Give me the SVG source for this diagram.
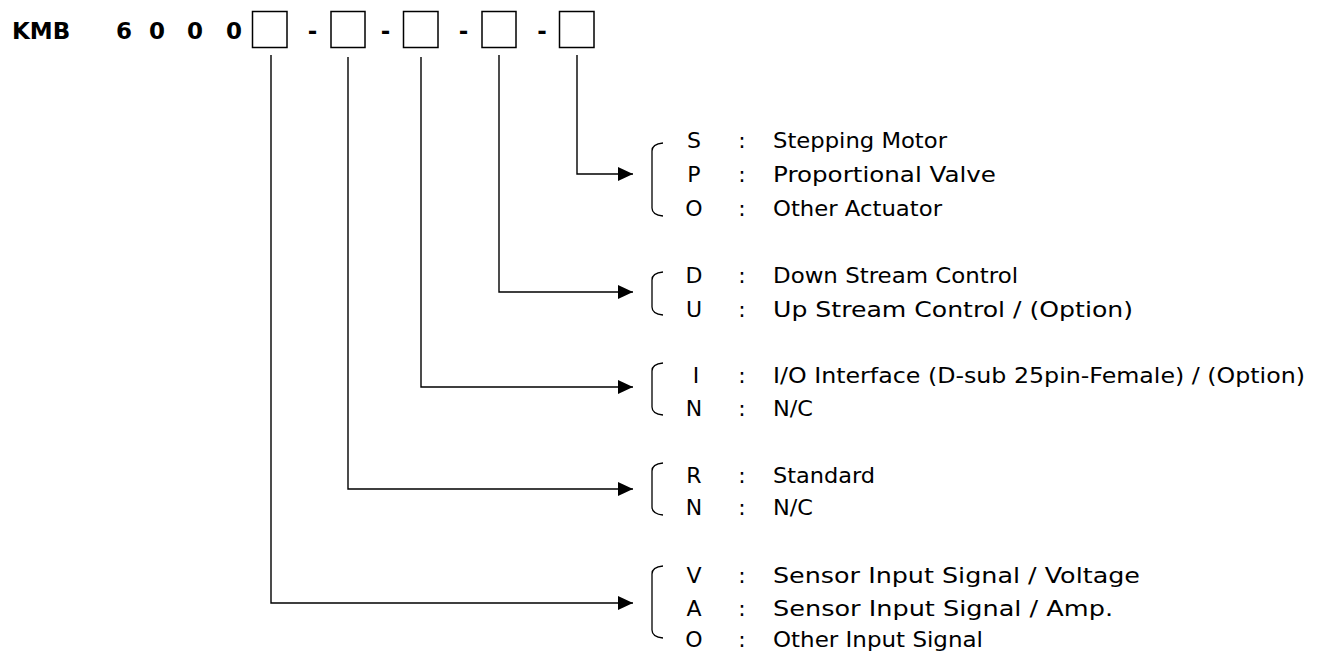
<svg xmlns="http://www.w3.org/2000/svg" width="1324" height="653" viewBox="0 0 1324 653">
<style>
.hd{font-family:"DejaVu Sans","Liberation Sans",sans-serif;font-weight:bold;font-size:23px;fill:#000}
.t{font-family:"DejaVu Sans","Liberation Sans",sans-serif;font-size:22px;fill:#000}
.k{text-anchor:middle}
.box{fill:#fff;stroke:#000;stroke-width:1.5}
.ln{fill:none;stroke:#000;stroke-width:1.4}
.br{fill:none;stroke:#000;stroke-width:1.3}
</style>
<defs>
<marker id="ah" markerWidth="15" markerHeight="14" refX="15" refY="7" orient="auto" markerUnits="userSpaceOnUse">
<path d="M0,0 L15,7 L0,14 Z" fill="#000"/>
</marker>
</defs>
<rect width="1324" height="653" fill="#fff"/>
<g id="code">
<text class="hd" x="12" y="39">KMB</text>
<text class="hd" x="116" y="39">6</text>
<text class="hd" x="149" y="39">0</text>
<text class="hd" x="187" y="39">0</text>
<text class="hd" x="226" y="39">0</text>
<text class="hd k" x="312.5" y="39">-</text>
<text class="hd k" x="385.5" y="39">-</text>
<text class="hd k" x="463.5" y="39">-</text>
<text class="hd k" x="542" y="39">-</text>
<rect class="box" x="252.5" y="11.5" width="34.5" height="36"/>
<rect class="box" x="331" y="11.5" width="34" height="36"/>
<rect class="box" x="403.5" y="11.5" width="34.5" height="36"/>
<rect class="box" x="482" y="11.5" width="34" height="36"/>
<rect class="box" x="559.5" y="11.5" width="34.5" height="36"/>
</g>
<g id="connectors">
<path class="ln" d="M577,55 V174 H633" marker-end="url(#ah)"/>
<path class="ln" d="M499,55 V292 H633" marker-end="url(#ah)"/>
<path class="ln" d="M421,57 V387 H633" marker-end="url(#ah)"/>
<path class="ln" d="M348,57 V489 H633" marker-end="url(#ah)"/>
<path class="ln" d="M271,55 V603 H633" marker-end="url(#ah)"/>
</g>
<g id="actuator">
<path class="br" d="M663,143 Q652,144 652,151 V208 Q652,215 663,216"/>
<text class="t k" x="694" y="148">S</text><text class="t k" x="742" y="148">:</text><text class="t" x="773" y="148" textLength="174" lengthAdjust="spacingAndGlyphs">Stepping Motor</text>
<text class="t k" x="694" y="182">P</text><text class="t k" x="742" y="182">:</text><text class="t" x="773" y="182" textLength="223" lengthAdjust="spacingAndGlyphs">Proportional Valve</text>
<text class="t k" x="694" y="216">O</text><text class="t k" x="742" y="216">:</text><text class="t" x="773" y="216" textLength="169" lengthAdjust="spacingAndGlyphs">Other Actuator</text>
</g>
<g id="control">
<path class="br" d="M663,272 Q652,273 652,280 V307 Q652,314 663,315"/>
<text class="t k" x="694" y="283">D</text><text class="t k" x="742" y="283">:</text><text class="t" x="773" y="283" textLength="245" lengthAdjust="spacingAndGlyphs">Down Stream Control</text>
<text class="t k" x="694" y="317">U</text><text class="t k" x="742" y="317">:</text><text class="t" x="773" y="317" textLength="360" lengthAdjust="spacingAndGlyphs">Up Stream Control / (Option)</text>
</g>
<g id="interface">
<path class="br" d="M663,363 Q652,364 652,371 V407 Q652,414 663,415"/>
<text class="t k" x="696" y="383">I</text><text class="t k" x="742" y="383">:</text><text class="t" x="773" y="383" textLength="532" lengthAdjust="spacingAndGlyphs">I/O Interface (D-sub 25pin-Female) / (Option)</text>
<text class="t k" x="694" y="416">N</text><text class="t k" x="742" y="416">:</text><text class="t" x="773" y="416" textLength="40" lengthAdjust="spacingAndGlyphs">N/C</text>
</g>
<g id="standard">
<path class="br" d="M663,463 Q652,464 652,471 V507 Q652,514 663,515"/>
<text class="t k" x="694" y="483">R</text><text class="t k" x="742" y="483">:</text><text class="t" x="773" y="483" textLength="102" lengthAdjust="spacingAndGlyphs">Standard</text>
<text class="t k" x="694" y="515">N</text><text class="t k" x="742" y="515">:</text><text class="t" x="773" y="515" textLength="40" lengthAdjust="spacingAndGlyphs">N/C</text>
</g>
<g id="input">
<path class="br" d="M663,566 Q652,567 652,574 V630 Q652,637 663,638"/>
<text class="t k" x="694" y="583">V</text><text class="t k" x="742" y="583">:</text><text class="t" x="773" y="583" textLength="367" lengthAdjust="spacingAndGlyphs">Sensor Input Signal / Voltage</text>
<text class="t k" x="694" y="616">A</text><text class="t k" x="742" y="616">:</text><text class="t" x="773" y="616" textLength="340" lengthAdjust="spacingAndGlyphs">Sensor Input Signal / Amp.</text>
<text class="t k" x="694" y="647">O</text><text class="t k" x="742" y="647">:</text><text class="t" x="773" y="647" textLength="210" lengthAdjust="spacingAndGlyphs">Other Input Signal</text>
</g>
</svg>
